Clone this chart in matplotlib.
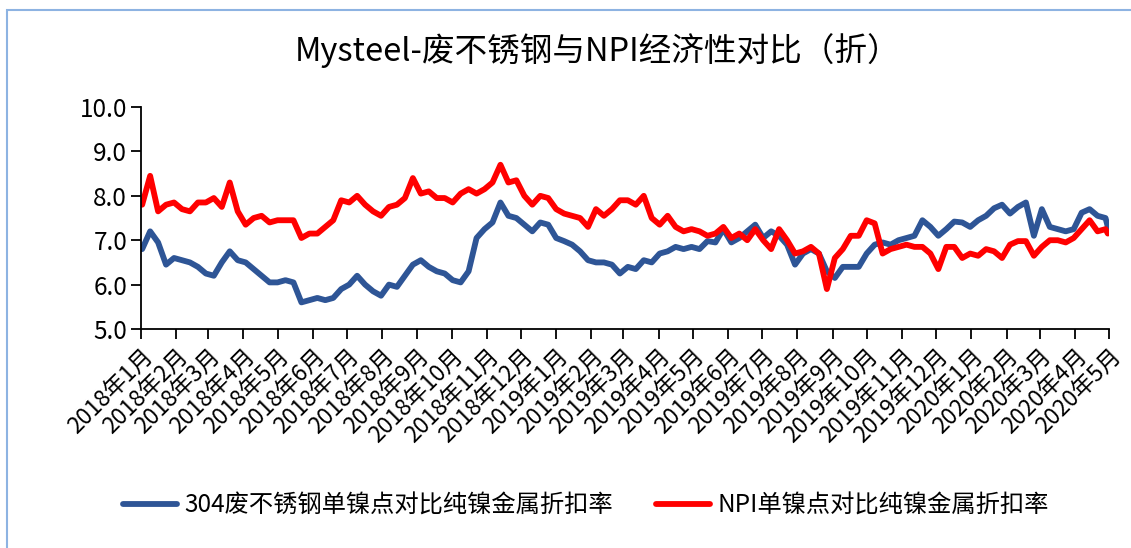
import matplotlib
matplotlib.use("Agg")
import matplotlib.pyplot as plt
import matplotlib.dates as mdates
from matplotlib.patches import Rectangle
import pandas as pd

plt.rcParams['font.family'] = ['Noto Sans CJK SC', 'DejaVu Sans']

title = "Mysteel-废不锈钢与NPI经济性对比（折）"
label_scrap = "304废不锈钢单镍点对比纯镍金属折扣率"
label_npi = "NPI单镍点对比纯镍金属折扣率"

dates = [
    "2018-01-02", "2018-01-09", "2018-01-16", "2018-01-23", "2018-01-30",
    "2018-02-06", "2018-02-13", "2018-02-20", "2018-02-27",
    "2018-03-06", "2018-03-13", "2018-03-20", "2018-03-27",
    "2018-04-03", "2018-04-10", "2018-04-17", "2018-04-24",
    "2018-05-01", "2018-05-08", "2018-05-15", "2018-05-22", "2018-05-29",
    "2018-06-05", "2018-06-12", "2018-06-19", "2018-06-26",
    "2018-07-03", "2018-07-10", "2018-07-17", "2018-07-24", "2018-07-31",
    "2018-08-07", "2018-08-14", "2018-08-21", "2018-08-28",
    "2018-09-04", "2018-09-11", "2018-09-18", "2018-09-25",
    "2018-10-02", "2018-10-09", "2018-10-16", "2018-10-23", "2018-10-30",
    "2018-11-06", "2018-11-13", "2018-11-20", "2018-11-27",
    "2018-12-04", "2018-12-11", "2018-12-18", "2018-12-25",
    "2019-01-01", "2019-01-08", "2019-01-15", "2019-01-22", "2019-01-29",
    "2019-02-05", "2019-02-12", "2019-02-19", "2019-02-26",
    "2019-03-05", "2019-03-12", "2019-03-19", "2019-03-26",
    "2019-04-02", "2019-04-09", "2019-04-16", "2019-04-23", "2019-04-30",
    "2019-05-07", "2019-05-14", "2019-05-21", "2019-05-28",
    "2019-06-04", "2019-06-11", "2019-06-18", "2019-06-25",
    "2019-07-02", "2019-07-09", "2019-07-16", "2019-07-23", "2019-07-30",
    "2019-08-06", "2019-08-13", "2019-08-20", "2019-08-27",
    "2019-09-03", "2019-09-10", "2019-09-17", "2019-09-24",
    "2019-10-01", "2019-10-08", "2019-10-15", "2019-10-22", "2019-10-29",
    "2019-11-05", "2019-11-12", "2019-11-19", "2019-11-26",
    "2019-12-03", "2019-12-10", "2019-12-17", "2019-12-24", "2019-12-31",
    "2020-01-07", "2020-01-14", "2020-01-21", "2020-01-28",
    "2020-02-04", "2020-02-11", "2020-02-18", "2020-02-25",
    "2020-03-03", "2020-03-10", "2020-03-17", "2020-03-24", "2020-03-31",
    "2020-04-07", "2020-04-14", "2020-04-21", "2020-04-28", "2020-04-30",
]

scrap_304 = [
    6.80, 7.20, 6.95, 6.45, 6.60, 6.55, 6.50, 6.40, 6.25, 6.20,
    6.50, 6.75, 6.55, 6.50, 6.35, 6.20, 6.05, 6.05, 6.10, 6.05,
    5.60, 5.65, 5.70, 5.65, 5.70, 5.90, 6.00, 6.20, 6.00, 5.85,
    5.75, 6.00, 5.95, 6.20, 6.45, 6.55, 6.40, 6.30, 6.25, 6.10,
    6.05, 6.30, 7.05, 7.25, 7.40, 7.85, 7.55, 7.50, 7.35, 7.20,
    7.40, 7.35, 7.05, 6.98, 6.90, 6.75, 6.55, 6.50, 6.50, 6.45,
    6.25, 6.40, 6.35, 6.55, 6.50, 6.70, 6.75, 6.85, 6.80, 6.85,
    6.80, 6.98, 6.95, 7.25, 6.95, 7.05, 7.20, 7.35, 7.05, 7.20,
    7.10, 6.90, 6.45, 6.70, 6.80, 6.70, 6.30, 6.15, 6.40, 6.40,
    6.40, 6.70, 6.90, 6.95, 6.90, 7.00, 7.05, 7.10, 7.45, 7.30,
    7.10, 7.25, 7.42, 7.40, 7.30, 7.45, 7.55, 7.72, 7.80, 7.60,
    7.75, 7.85, 7.10, 7.70, 7.30, 7.25, 7.20, 7.25, 7.62, 7.70,
    7.55, 7.50, 7.30,
]

npi = [
    7.80, 8.45, 7.65, 7.80, 7.85, 7.70, 7.65, 7.85, 7.85, 7.95,
    7.75, 8.30, 7.65, 7.35, 7.50, 7.55, 7.40, 7.45, 7.45, 7.45,
    7.05, 7.15, 7.15, 7.30, 7.45, 7.90, 7.85, 8.00, 7.80, 7.65,
    7.55, 7.75, 7.80, 7.95, 8.40, 8.05, 8.10, 7.95, 7.95, 7.85,
    8.05, 8.15, 8.05, 8.15, 8.30, 8.70, 8.30, 8.35, 8.00, 7.80,
    8.00, 7.95, 7.70, 7.60, 7.55, 7.50, 7.30, 7.70, 7.55, 7.70,
    7.90, 7.90, 7.80, 8.00, 7.50, 7.35, 7.55, 7.30, 7.20, 7.25,
    7.20, 7.10, 7.15, 7.30, 7.05, 7.15, 7.00, 7.25, 7.00, 6.80,
    7.25, 7.00, 6.70, 6.75, 6.85, 6.70, 5.90, 6.60, 6.80, 7.10,
    7.10, 7.45, 7.38, 6.70, 6.80, 6.85, 6.90, 6.85, 6.85, 6.70,
    6.35, 6.85, 6.85, 6.60, 6.70, 6.65, 6.80, 6.75, 6.60, 6.90,
    6.98, 6.98, 6.65, 6.85, 7.00, 7.00, 6.95, 7.05, 7.25, 7.45,
    7.20, 7.25, 7.15,
]

y_ticks = [5.0, 6.0, 7.0, 8.0, 9.0, 10.0]

x = pd.to_datetime(dates)

fig = plt.figure(figsize=(11.31, 5.48), dpi=100)
ax = fig.add_axes([0.1247, 0.3996, 0.9805 - 0.1247, 0.8047 - 0.3996])

ax.plot(x, scrap_304, color="#2E5596", lw=4.2, solid_joinstyle="round",
        solid_capstyle="round", label=label_scrap)
ax.plot(x, npi, color="#FF0000", lw=4.2, solid_joinstyle="round",
        solid_capstyle="round", label=label_npi)

ax.set_ylim(5.0, 10.0)
ax.set_yticks(y_ticks)
ax.set_yticklabels([f"{v:.1f}" for v in y_ticks], fontsize=17.5)
ax.set_xlim(pd.Timestamp("2018-01-01"), pd.Timestamp("2020-05-01"))
ax.xaxis.set_major_locator(mdates.MonthLocator())
ax.xaxis.set_major_formatter(
    matplotlib.ticker.FuncFormatter(
        lambda v, p: f"{mdates.num2date(v).year}年{mdates.num2date(v).month}月"))
for lab in ax.get_xticklabels():
    lab.set_rotation(45)
    lab.set_ha("right")
    lab.set_rotation_mode("anchor")
    lab.set_fontsize(16.5)

for s in ["top", "right"]:
    ax.spines[s].set_visible(False)
for s in ["left", "bottom"]:
    ax.spines[s].set_linewidth(1.3)
    ax.spines[s].set_color("black")
ax.tick_params(axis="both", direction="out", length=7, width=1.3, colors="black")
ax.tick_params(axis="x", pad=4)
ax.tick_params(axis="y", pad=3)

fig.text(0.528, 0.907, title, ha="center", va="center", fontsize=23.5)

fig.legend(loc="center", bbox_to_anchor=(0.518, 0.078), ncol=2, frameon=False,
           fontsize=17.5, handlelength=2.2, handletextpad=0.3, columnspacing=1.8)

fig.add_artist(Rectangle((7 / 1131, -0.05), 1.2, 1 - 10 / 548 + 0.05,
                         transform=fig.transFigure, fill=False,
                         edgecolor="#8DB3E2", lw=1.5))

fig.savefig("out.png", dpi=100)
